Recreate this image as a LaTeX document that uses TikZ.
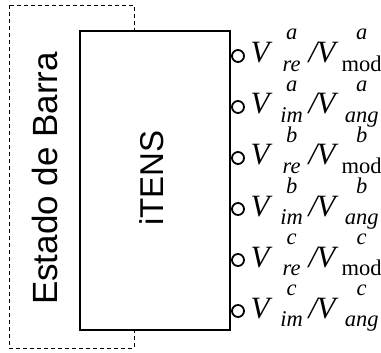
\documentclass[tikz,border=0pt]{standalone}
\usepackage{fontspec}
\setmainfont{Liberation Serif}
\setsansfont{Liberation Sans}
\newcommand{\scr}{\fontsize{22.5}{22.5}\selectfont}
\newcommand{\putat}[2]{\rlap{\hspace{#1}#2}}
\newcommand{\putct}[2]{\rlap{\hspace{#1}\makebox[0pt][c]{#2}}}
\newcommand{\sups}[1]{\raisebox{23pt}{\scr\itshape #1}}
\newcommand{\subs}[1]{\raisebox{-9pt}{\scr #1}}
\newcommand{\lblx}[4]{\fontsize{31}{31}\selectfont
  \putat{1pt}{\itshape V}\putct{42pt}{\sups{#1}}\putct{42pt}{\subs{#2}}%
  \putat{59pt}{\itshape /}\putat{67pt}{\itshape V}\putct{112pt}{\sups{#3}}\putct{112pt}{\subs{#4}}%
  \hspace{131pt}}
\begin{document}
\begin{tikzpicture}[x=1pt,y=-1pt,
  outer/.style={draw,dashed,dash pattern=on 4pt off 3pt,line width=0.8pt},
  block/.style={draw,line width=1.5pt,fill=white},
  port/.style={draw,circle,line width=1.8pt,minimum size=12pt,inner sep=0pt,fill=white},
  lbl/.style={anchor=base west,inner sep=0pt}]
\useasboundingbox (0,0) rectangle (381,353);
\draw[outer] (9.5,5.5) rectangle (134,348.5);
\node[rotate=90,font=\sffamily\fontsize{35}{35}\selectfont,inner sep=0pt] (estado) at (45,178.5) {Estado de Barra};
\node[block,minimum width=150pt,minimum height=299pt,inner sep=0pt] (box) at (155,180.5) {};
\node[rotate=90,font=\sffamily\fontsize{33}{33}\selectfont,inner sep=0pt] (itens) at (152,178) {iTENS};
\foreach \i/\sa/\sb/\sc/\sd in {1/a/\textit{re}/a/mod,2/a/\textit{im}/a/\textit{ang},3/b/\textit{re}/b/mod,4/b/\textit{im}/b/\textit{ang},5/c/\textit{re}/c/mod,6/c/\textit{im}/c/\textit{ang}}{
  \node[port] (p\i) at (238,{56+51*(\i-1)}) {};
  \node[lbl] (l\i) at (249,{63+51*(\i-1)}) {\lblx{\sa}{\sb}{\sc}{\sd}};
}
\end{tikzpicture}
\end{document}
